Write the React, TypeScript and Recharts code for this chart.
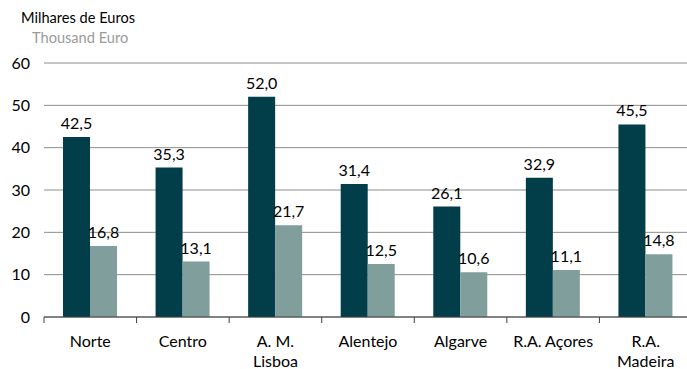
import { Bar, BarChart, CartesianGrid, LabelList, XAxis, YAxis } from "recharts";

const REGIONS = ["Norte", "Centro", "A. M.\nLisboa", "Alentejo", "Algarve", "R.A. Açores", "R.A.\nMadeira"];
const SERIES_A = [42.5, 35.3, 52.0, 31.4, 26.1, 32.9, 45.5];
const SERIES_B = [16.8, 13.1, 21.7, 12.5, 10.6, 11.1, 14.8];
const Y_TICKS = [0, 10, 20, 30, 40, 50, 60];

const DARK = "#023d4a";
const LIGHT = "#7f9e9c";
const FONT = "Lato, 'Open Sans', sans-serif";

const CHART_W = 700;
const PLOT_LEFT = 44;
const PLOT_RIGHT_MARGIN = 8;
const STEP = (CHART_W - PLOT_LEFT - PLOT_RIGHT_MARGIN) / REGIONS.length;

const data = REGIONS.map((r, i) => ({ region: r, a: SERIES_A[i], b: SERIES_B[i] }));

const fmt = (v: number) => v.toFixed(1).replace(".", ",");

// tick y arrives already shifted by tickSize + tickMargin (8px) below the axis
function RegionTick(props: any) {
  const { x, y, payload } = props;
  const lines = String(payload.value).split("\n");
  return (
    <g>
      <line x1={x - STEP / 2} x2={x - STEP / 2} y1={y - 8} y2={y - 2} stroke="#404040" />
      <text x={x} y={y + 22} textAnchor="middle" fill="#000" fontSize={16} fontFamily={FONT}>
        {lines.map((l, i) => (
          <tspan key={i} x={x} dy={i === 0 ? 0 : 20}>
            {l}
          </tspan>
        ))}
      </text>
    </g>
  );
}

export default function App() {
  return (
    <div
      style={{
        position: "fixed",
        top: 0,
        left: 0,
        width: 687,
        height: 369,
        overflow: "hidden",
        background: "#fff",
        fontFamily: FONT,
      }}
    >
      <div style={{ position: "absolute", left: 21, top: 9, fontSize: 14.6, color: "#000" }}>
        Milhares de Euros
      </div>
      <div style={{ position: "absolute", left: 32, top: 29, fontSize: 14.6, color: "#9a9a9a" }}>
        Thousand Euro
      </div>
      <BarChart
        width={CHART_W}
        height={369}
        data={data}
        margin={{ top: 63, right: PLOT_RIGHT_MARGIN, left: 0, bottom: 2 }}
        barSize={27}
        barGap={0}
      >
        <CartesianGrid vertical={false} stroke="#8c8c8c" />
        <XAxis
          dataKey="region"
          interval={0}
          height={50}
          tickLine={false}
          axisLine={{ stroke: "#404040" }}
          tick={<RegionTick />}
        />
        <YAxis
          width={PLOT_LEFT}
          domain={[0, 60]}
          ticks={Y_TICKS}
          axisLine={false}
          tickLine={false}
          tickMargin={8}
          tick={{ fill: "#000", fontSize: 16, fontFamily: FONT }}
        />
        <Bar dataKey="a" fill={DARK} isAnimationActive={false}>
          <LabelList
            dataKey="a"
            position="top"
            offset={8}
            formatter={(v: any) => fmt(Number(v))}
            style={{ fill: "#000", fontSize: 16, fontFamily: FONT }}
          />
        </Bar>
        <Bar dataKey="b" fill={LIGHT} isAnimationActive={false}>
          <LabelList
            dataKey="b"
            position="top"
            offset={8}
            formatter={(v: any) => fmt(Number(v))}
            style={{ fill: "#000", fontSize: 16, fontFamily: FONT }}
          />
        </Bar>
      </BarChart>
    </div>
  );
}
